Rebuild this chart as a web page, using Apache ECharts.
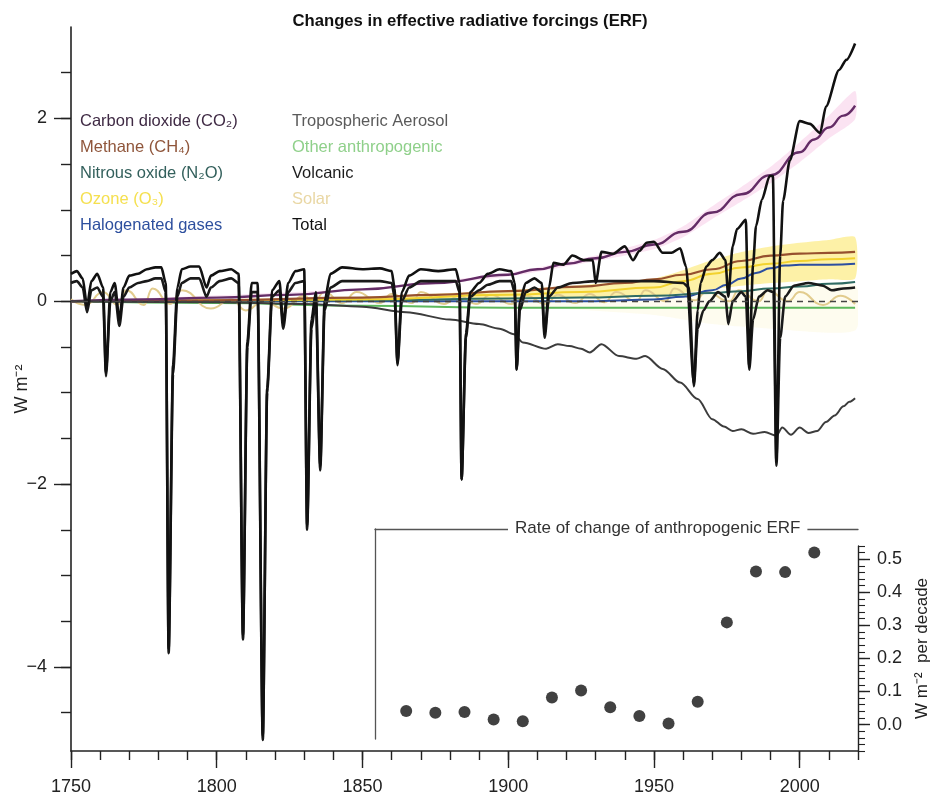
<!DOCTYPE html>
<html><head><meta charset="utf-8">
<script src="https://cdn.jsdelivr.net/npm/echarts@6/dist/echarts.min.js"></script>
<style>html,body{margin:0;padding:0;background:#fff}#c{width:940px;height:795px}</style>
</head><body><div id="c"></div>
<script>
// ---- tick labels ----
const xMajorTicks = [1750, 1800, 1850, 1900, 1950, 2000];
const yMajorTicks = [-4, -2, 0, 2];
const yMinorTicks = [-4.5, -4, -3.5, -3, -2.5, -2, -1.5, -1, -0.5, 0, 0.5, 1, 1.5, 2, 2.5];
const rateTicks = [0, 0.1, 0.2, 0.3, 0.4, 0.5];

// ---- series values [year, W m-2] ----
const co2 = [[1750,0],[1775,0.02],[1800,0.04],[1825,0.07],[1850,0.13],[1875,0.2],[1900,0.29],[1910,0.35],[1920,0.41],[1930,0.47],[1940,0.54],[1950,0.62],[1960,0.76],[1970,0.97],[1980,1.17],[1990,1.38],[2000,1.63],[2005,1.77],[2010,1.9],[2015,2.03],[2019,2.14]];
const methane = [[1750,0],[1800,0.01],[1850,0.04],[1875,0.07],[1900,0.11],[1925,0.16],[1940,0.2],[1950,0.24],[1960,0.29],[1970,0.35],[1980,0.44],[1990,0.5],[2000,0.52],[2010,0.53],[2019,0.54]];
const n2o = [[1750,0],[1850,0.01],[1900,0.03],[1925,0.04],[1950,0.06],[1970,0.09],[1980,0.11],[1990,0.14],[2000,0.16],[2010,0.19],[2019,0.21]];
const ozone = [[1750,0],[1850,0.02],[1900,0.07],[1925,0.1],[1950,0.15],[1960,0.22],[1970,0.3],[1980,0.37],[1990,0.41],[2000,0.44],[2010,0.46],[2019,0.47]];
const halogen = [[1750,0],[1930,0],[1940,0.01],[1950,0.02],[1960,0.05],[1970,0.12],[1975,0.18],[1980,0.25],[1985,0.31],[1990,0.36],[1995,0.39],[2000,0.4],[2010,0.4],[2019,0.41]];
const otherAnthro = [[1750,0],[1800,-0.02],[1850,-0.05],[1900,-0.07],[1950,-0.07],[2000,-0.07],[2019,-0.07]];
const aerosol = [[1750,0],[1800,-0.01],[1830,-0.03],[1850,-0.06],[1865,-0.12],[1880,-0.2],[1890,-0.25],[1897,-0.3],[1902,-0.36],[1905,-0.45],[1913,-0.52],[1917,-0.47],[1921,-0.49],[1925,-0.52],[1928,-0.56],[1932,-0.47],[1938,-0.6],[1944,-0.63],[1947,-0.6],[1953,-0.74],[1959,-0.89],[1965,-1.07],[1970,-1.29],[1974,-1.37],[1977,-1.42],[1980,-1.4],[1984,-1.45],[1988,-1.43],[1992,-1.47],[1994,-1.38],[1997,-1.46],[2000,-1.38],[2003,-1.44],[2006,-1.42],[2009,-1.32],[2012,-1.25],[2015,-1.15],[2017,-1.1],[2019,-1.06]];
const solar = [[1750,0.02],[1755,-0.04],[1761,0.1],[1766,-0.04],[1769,0.12],[1775,-0.04],[1778,0.14],[1784,-0.03],[1788,0.12],[1798,-0.08],[1805,0.02],[1810,-0.1],[1816,0.0],[1823,-0.08],[1830,0.06],[1833,-0.02],[1837,0.1],[1843,-0.02],[1848,0.1],[1856,-0.02],[1860,0.08],[1867,-0.02],[1870,0.1],[1878,-0.03],[1883,0.06],[1889,-0.03],[1894,0.07],[1901,-0.03],[1906,0.06],[1913,-0.03],[1917,0.07],[1923,-0.02],[1928,0.08],[1933,-0.01],[1937,0.1],[1944,0.0],[1947,0.12],[1954,0.0],[1957,0.14],[1964,0.01],[1968,0.1],[1976,0.0],[1979,0.12],[1986,0.0],[1989,0.12],[1996,0.0],[2000,0.1],[2008,-0.04],[2014,0.06],[2019,-0.03]];
const volcanic = [[1750,0.2],[1752,0.22],[1754,0.15],[1755.5,-0.12],[1757,0.12],[1759,0.15],[1761,0.05],[1762,-0.82],[1763.5,0.0],[1765,0.1],[1766.6,-0.27],[1768,0.05],[1770,0.15],[1773,0.2],[1776,0.22],[1779,0.25],[1781,0.25],[1782.5,0.1],[1783.5,-3.85],[1785,-0.8],[1786.5,0.05],[1788,0.2],[1791,0.25],[1794,0.25],[1796.5,0.05],[1798,0.15],[1801,0.22],[1805,0.25],[1807.5,0.2],[1809,-3.7],[1810.5,-0.5],[1812,0.1],[1814,0.1],[1815.8,-4.8],[1817.3,-1.0],[1819,0.05],[1821.5,0.12],[1822.8,-0.3],[1824.5,0.1],[1827,0.2],[1830,0.22],[1831,-2.5],[1832.5,-0.3],[1834,0.0],[1835.5,-1.85],[1837,-0.1],[1839,0.15],[1843,0.22],[1850,0.22],[1856,0.22],[1860,0.2],[1861,0.05],[1862,-0.7],[1863.5,0.0],[1866,0.15],[1870,0.22],[1876,0.22],[1882,0.22],[1883.3,0.1],[1884,-1.95],[1885.5,-0.4],[1887,0.05],[1890,0.12],[1893,0.18],[1897,0.22],[1901,0.22],[1902.2,0.1],[1902.9,-0.75],[1904,-0.1],[1906,0.1],[1909,0.15],[1911.5,0.1],[1912.5,-0.4],[1914,0.05],[1917,0.15],[1922,0.2],[1930,0.22],[1940,0.22],[1950,0.22],[1960,0.2],[1962,0.15],[1963.7,-0.93],[1965,-0.3],[1967,-0.1],[1969,0.0],[1972,0.1],[1974.5,0.05],[1975.5,-0.25],[1977,0.0],[1980,0.1],[1981.5,0.05],[1982.7,-0.75],[1984,-0.2],[1986,0.05],[1989,0.12],[1991,0.1],[1992,-1.8],[1993.3,-0.4],[1995,0.05],[1998,0.17],[2003,0.2],[2008,0.17],[2011,0.12],[2015,0.14],[2019,0.15]];
const total = [[1750,0.3],[1752,0.33],[1754,0.25],[1755.5,-0.05],[1757,0.22],[1759,0.3],[1761,0.15],[1762,-0.78],[1763.5,0.1],[1765,0.2],[1766.6,-0.2],[1768,0.15],[1770,0.28],[1773,0.3],[1776,0.35],[1779,0.37],[1781,0.37],[1782.5,0.2],[1783.5,-3.8],[1785,-0.7],[1786.5,0.15],[1788,0.35],[1791,0.38],[1794,0.38],[1796.5,0.15],[1798,0.28],[1801,0.33],[1805,0.35],[1807.5,0.3],[1809,-3.65],[1810.5,-0.45],[1812,0.2],[1814,0.2],[1815.8,-4.75],[1817.3,-0.95],[1819,0.12],[1821.5,0.22],[1822.8,-0.25],[1824.5,0.2],[1827,0.33],[1830,0.35],[1831,-2.45],[1832.5,-0.2],[1834,0.1],[1835.5,-1.8],[1837,0.0],[1839,0.3],[1843,0.37],[1850,0.35],[1856,0.36],[1860,0.33],[1861,0.15],[1862,-0.68],[1863.5,0.1],[1866,0.28],[1870,0.35],[1876,0.33],[1882,0.35],[1883.3,0.2],[1884,-1.95],[1885.5,-0.35],[1887,0.1],[1890,0.2],[1893,0.3],[1897,0.35],[1901,0.33],[1902.2,0.2],[1902.9,-0.74],[1904,0.0],[1906,0.2],[1909,0.25],[1911.5,0.2],[1912.5,-0.35],[1914,0.15],[1915.5,0.42],[1919,0.4],[1922,0.5],[1926,0.45],[1929,0.45],[1930,0.2],[1932,0.54],[1936,0.52],[1940,0.6],[1942.8,0.45],[1945,0.55],[1947.5,0.64],[1950,0.65],[1953,0.53],[1956,0.53],[1959,0.58],[1961,0.38],[1963.7,-0.9],[1965,-0.1],[1966,0.2],[1968,0.38],[1970,0.45],[1972.6,0.53],[1974.5,0.45],[1975.5,0.05],[1977,0.6],[1978.5,0.79],[1981.5,0.89],[1982.7,-0.72],[1984,0.4],[1985,0.82],[1987,1.11],[1989.7,1.37],[1990.8,1.37],[1992,-1.75],[1993.3,0.5],[1994.3,1.1],[1996.6,1.54],[2000,1.97],[2003.5,1.94],[2007,1.84],[2009,2.13],[2013.5,2.53],[2016,2.64],[2019,2.82]];

// ---- uncertainty bands ----
const co2BandYears = [1750, 1850, 1900, 1930, 1950, 1960, 1970, 1980, 1990, 2000, 2010, 2019];
const co2BandLow  = [0, 0.12, 0.27, 0.44, 0.57, 0.7, 0.9, 1.09, 1.29, 1.52, 1.78, 1.99];
const co2BandHigh = [0, 0.14, 0.31, 0.5, 0.67, 0.82, 1.04, 1.25, 1.47, 1.74, 2.03, 2.3];
const ozoneBandYears = [1750, 1850, 1900, 1930, 1950, 1960, 1970, 1980, 1990, 2000, 2010, 2019];
const ozoneBandLow  = [0, 0, 0.02, 0.04, 0.06, 0.09, 0.13, 0.17, 0.2, 0.22, 0.24, 0.25];
const ozoneBandHigh = [0, 0.05, 0.12, 0.19, 0.25, 0.34, 0.45, 0.54, 0.6, 0.64, 0.67, 0.7];
const paleBandYears = [1850, 1900, 1950, 1970, 1990, 2019];
const paleBandLow  = [0, -0.05, -0.15, -0.25, -0.3, -0.32];
const paleBandHigh = [0, 0.03, 0.08, 0.12, 0.15, 0.18];

// ---- inset: rate of change of anthropogenic ERF ----
const rateYears  = [1865, 1875, 1885, 1895, 1905, 1915, 1925, 1935, 1945, 1955, 1965, 1975, 1985, 1995, 2005];
const rateValues = [0.041, 0.036, 0.038, 0.015, 0.01, 0.082, 0.103, 0.052, 0.026, 0.003, 0.069, 0.309, 0.463, 0.461, 0.52];

const FONT = '"Liberation Sans", Arial, sans-serif';

const seriesDefs = [
  {name: 'Other anthropogenic', data: otherAnthro, color: '#5cb85c', text: '#8fd08a', w: 2},
  {name: 'Solar', data: solar, color: '#e2cc8e', text: '#e9d7a4', w: 2},
  {name: 'Halogenated gases', data: halogen, color: '#2b4ea0', text: '#2d4f9e', w: 2},
  {name: 'Nitrous oxide (N\u2082O)', data: n2o, color: '#2f6b63', text: '#33605c', w: 2},
  {name: 'Ozone (O\u2083)', data: ozone, color: '#f2d22e', text: '#f5e050', w: 2},
  {name: 'Methane (CH\u2084)', data: methane, color: '#96502e', text: '#8f553a', w: 2.2},
  {name: 'Carbon dioxide (CO\u2082)', data: co2, color: '#642c66', text: '#3f2a44', w: 2.4},
  {name: 'Tropospheric Aerosol', data: aerosol, color: '#3c3c3c', text: '#5a5a5a', w: 2, smooth: 0.3},
  {name: 'Volcanic', data: volcanic, color: '#1a1a1a', text: '#1c1c1c', w: 2.6, smooth: 0.25},
  {name: 'Total', data: total, color: '#111111', text: '#111111', w: 2.6, smooth: 0.25}
];
const textColor = {};
seriesDefs.forEach(d => textColor[d.name] = d.text);

// uncertainty band drawn as a polygon through the axis scales
function band(key, yrs, lo, hi, color) {
  return {
    name: key, type: 'custom', xAxisIndex: 0, yAxisIndex: 0, silent: true, z: 1, clip: true,
    data: yrs.map((y, i) => [y, lo[i], hi[i]]),
    encode: {x: 0, y: [1, 2]},
    renderItem: function (params, api) {
      if (params.dataIndex !== 0) return null;
      const pts = [];
      for (let i = 0; i < yrs.length; i++) pts.push(api.coord([yrs[i], hi[i]]));
      for (let i = yrs.length - 1; i >= 0; i--) pts.push(api.coord([yrs[i], lo[i]]));
      return {type: 'polygon', shape: {points: pts, smooth: 0.2}, style: {fill: color}};
    }
  };
}

const series = [];
series.push(band('pale', paleBandYears, paleBandLow, paleBandHigh, 'rgba(251,246,210,0.35)'));
series.push(band('ozoneBand', ozoneBandYears, ozoneBandLow, ozoneBandHigh, 'rgba(250,224,60,0.45)'));
series.push(band('co2Band', co2BandYears, co2BandLow, co2BandHigh, 'rgba(245,185,222,0.4)'));
seriesDefs.forEach(d => {
  const s = {
    name: d.name, type: 'line', xAxisIndex: 0, yAxisIndex: 0, data: d.data, symbol: 'none',
    smooth: d.smooth !== undefined ? d.smooth : 0.5, smoothMonotone: 'x',
    lineStyle: {color: d.color, width: d.w}, itemStyle: {color: d.color}, z: 3
  };
  if (d.name === 'Solar') {
    s.markLine = {silent: true, symbol: 'none', label: {show: false},
      lineStyle: {type: [6, 5], color: '#444', width: 1.3}, data: [{yAxis: 0}]};
  }
  series.push(s);
});
series.push({
  name: 'rate', type: 'scatter', xAxisIndex: 2, yAxisIndex: 2,
  data: rateYears.map((y, i) => [y, rateValues[i]]),
  symbolSize: 12, itemStyle: {color: '#111'}, z: 5
});

const col1 = ['Carbon dioxide (CO\u2082)', 'Methane (CH\u2084)', 'Nitrous oxide (N\u2082O)', 'Ozone (O\u2083)', 'Halogenated gases'];
const col2 = ['Tropospheric Aerosol', 'Other anthropogenic', 'Volcanic', 'Solar', 'Total'];
function legendCol(names, left) {
  return {
    left: left, top: 111, orient: 'vertical', icon: 'none', itemWidth: 0, itemHeight: 14, itemGap: 6,
    selectedMode: false, padding: 0,
    textStyle: {fontFamily: FONT, fontSize: 16.5, lineHeight: 20},
    data: names.map(n => ({name: n, textStyle: {color: textColor[n]}}))
  };
}

const axisLineMain = {show: true, onZero: false, lineStyle: {color: '#222', width: 1.6}};
const tickStyle = {color: '#222', width: 1.4};

const option = {
  animation: false,
  backgroundColor: '#fff',
  title: [
    {text: 'Changes in effective radiative forcings (ERF)', left: 'center', top: 13, padding: 0,
     textStyle: {fontFamily: FONT, fontWeight: 'bold', fontSize: 16.7, color: '#111'}},
    {text: 'Rate of change of anthropogenic ERF', left: 508, top: 519, padding: [1, 7],
     backgroundColor: '#fff', z: 10,
     textStyle: {fontFamily: FONT, fontWeight: 'normal', fontSize: 17, color: '#333'}}
  ],
  legend: [legendCol(col1, 75), legendCol(col2, 287)],
  grid: [
    {left: 71, right: 82, top: 27, bottom: 44, outerBoundsMode: 'none', containLabel: false},
    {left: 71, right: 82, top: 546, bottom: 44, outerBoundsMode: 'none', containLabel: false},
    {left: 375, right: 82, top: 529, bottom: 56, outerBoundsMode: 'none', containLabel: false}
  ],
  xAxis: [
    {type: 'value', gridIndex: 0, min: 1750, max: 2020, position: 'bottom',
     axisLine: axisLineMain,
     axisTick: {show: true, length: 17, customValues: xMajorTicks, lineStyle: tickStyle},
     axisLabel: {show: true, customValues: xMajorTicks, margin: 27, fontFamily: FONT, fontSize: 18, color: '#222',
       formatter: v => String(v)},
     splitLine: {show: false}},
    {type: 'value', gridIndex: 0, min: 1750, max: 2020, interval: 10, position: 'bottom',
     axisLine: {show: false, onZero: false},
     axisTick: {show: true, length: 9, lineStyle: tickStyle},
     axisLabel: {show: false}, splitLine: {show: false}},
    {type: 'value', gridIndex: 1, min: 1750, max: 2020, show: false},
    {type: 'value', gridIndex: 2, min: 0, max: 1, position: 'top',
     axisLine: {show: true, onZero: false, lineStyle: {color: '#555', width: 1.3}},
     axisTick: {show: false}, axisLabel: {show: false}, splitLine: {show: false}}
  ],
  yAxis: [
    {type: 'value', gridIndex: 0, min: -4.92, max: 3, position: 'left',
     axisLine: axisLineMain,
     axisTick: {show: true, length: 17, customValues: yMajorTicks, lineStyle: tickStyle},
     axisLabel: {show: true, customValues: yMajorTicks, margin: 24, fontFamily: FONT, fontSize: 18, color: '#222',
       formatter: v => v < 0 ? '\u2212' + (-v) : String(v)},
     splitLine: {show: false},
     name: 'W m\u207B\u00B2', nameLocation: 'middle', nameGap: 40, nameRotate: 90, nameMoveOverlap: false,
     nameTextStyle: {fontFamily: FONT, fontSize: 18, color: '#222'}},
    {type: 'value', gridIndex: 0, min: -4.92, max: 3, position: 'left',
     axisLine: {show: false, onZero: false},
     axisTick: {show: true, length: 10, customValues: yMinorTicks, lineStyle: tickStyle},
     axisLabel: {show: false}, splitLine: {show: false}},
    {type: 'value', gridIndex: 1, min: -0.08, max: 0.54, position: 'right',
     axisLine: {show: true, onZero: false, lineStyle: {color: '#222', width: 1.4}},
     axisTick: {show: true, length: 12, customValues: rateTicks, lineStyle: tickStyle},
     axisLabel: {show: true, customValues: rateTicks, margin: 19, fontFamily: FONT, fontSize: 18, color: '#222',
       formatter: v => v.toFixed(1)},
     splitLine: {show: false},
     name: 'W m\u207B\u00B2  per decade', nameLocation: 'middle', nameGap: 56, nameRotate: 90, nameMoveOverlap: false,
     nameTextStyle: {fontFamily: FONT, fontSize: 17, color: '#222'}},
    {type: 'value', gridIndex: 1, min: -0.08, max: 0.54, interval: 0.02, position: 'right',
     axisLine: {show: false, onZero: false},
     axisTick: {show: true, length: 7, lineStyle: {color: '#222', width: 1.1}},
     axisLabel: {show: false}, splitLine: {show: false}},
    {type: 'value', gridIndex: 2, min: 0, max: 1, position: 'left',
     axisLine: {show: true, onZero: false, lineStyle: {color: '#555', width: 1.3}},
     axisTick: {show: false}, axisLabel: {show: false}, splitLine: {show: false}}
  ],
  series: series
};

const chart = echarts.init(document.getElementById('c'), null, {renderer: 'canvas'});
chart.setOption(option);
</script></body></html>
